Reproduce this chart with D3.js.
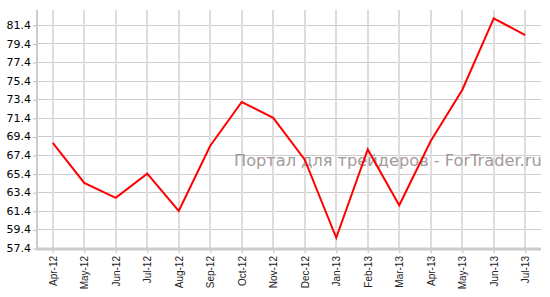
<!DOCTYPE html>
<html>
<head>
<meta charset="utf-8">
<script src="https://cdn.jsdelivr.net/npm/d3@7"></script>
<style>
	body { margin: 0; background: #fff; }
	svg { display: block; }
</style>
</head>
<body>
<div id="chart"></div>
<script>
// months on the x axis
const months = ["Apr-12", "May-12", "Jun-12", "Jul-12", "Aug-12", "Sep-12", "Oct-12", "Nov-12",
	"Dec-12", "Jan-13", "Feb-13", "Mar-13", "Apr-13", "May-13", "Jun-13", "Jul-13"];
// values
const values = [68.7, 64.4, 62.8, 65.4, 61.4, 68.4, 73.1, 71.4,
	66.9, 58.5, 68.0, 62.0, 68.9, 74.4, 82.1, 80.3];
const yTicks = [57.4, 59.4, 61.4, 63.4, 65.4, 67.4, 69.4, 71.4, 73.4, 75.4, 77.4, 79.4, 81.4];
const watermark = "Портал для трейдеров - ForTrader.ru";

const width = 550, height = 297;
const margin = {top: 10, right: 9, bottom: 49, left: 37};

const svg = d3.select('#chart').append('svg')
	.attr('width', width)
	.attr('height', height);

const x = d3.scalePoint()
	.domain(months)
	.range([margin.left, width - margin.right])
	.padding(0.5);

const y = d3.scaleLinear()
	.domain([57.4, 83.0])
	.range([height - margin.bottom, margin.top]);

// horizontal grid
svg.append('g')
	.selectAll('line')
	.data(yTicks)
	.enter().append('line')
	.attr('x1', margin.left)
	.attr('x2', width - margin.right)
	.attr('y1', d => Math.round(y(d)) + 0.5)
	.attr('y2', d => Math.round(y(d)) + 0.5)
	.style('stroke', '#cccccc')
	.style('stroke-width', 1);

// vertical grid
svg.append('g')
	.selectAll('line')
	.data(months)
	.enter().append('line')
	.attr('x1', d => Math.round(x(d)))
	.attr('x2', d => Math.round(x(d)))
	.attr('y1', margin.top)
	.attr('y2', height - margin.bottom)
	.style('stroke', '#dddddd')
	.style('stroke-width', 2);

// watermark
svg.append('text')
	.attr('x', 234)
	.attr('y', 166)
	.style('font-family', 'DejaVu Sans, Verdana, sans-serif')
	.style('font-size', '16.2px')
	.style('fill', '#a39a9a')
	.text(watermark);

// y axis
const yAxis = svg.append('g')
	.attr('transform', `translate(${margin.left},0)`)
	.call(d3.axisLeft(y).tickValues(yTicks).tickSize(4).tickPadding(2).tickFormat(d3.format('.1f')));
yAxis.select('.domain').remove();
yAxis.selectAll('.tick line').style('stroke', '#bbbbbb').attr('transform', 'translate(0,0.5)');
yAxis.selectAll('text')
	.style('font-family', 'DejaVu Sans, Verdana, sans-serif')
	.style('font-size', '11px')
	.style('fill', '#000');
svg.append('line')
	.attr('x1', margin.left).attr('x2', margin.left)
	.attr('y1', margin.top).attr('y2', height - margin.bottom + 2)
	.style('stroke', '#cccccc')
	.style('stroke-width', 2);

// x axis
const xAxis = svg.append('g')
	.attr('transform', `translate(0,${height - margin.bottom})`)
	.call(d3.axisBottom(x).tickSize(5).tickPadding(3));
xAxis.select('.domain').remove();
xAxis.selectAll('.tick line').style('stroke', '#bbbbbb');
xAxis.selectAll('text')
	.attr('transform', 'rotate(-90)')
	.attr('x', -8)
	.attr('y', 0)
	.attr('dy', '0.35em')
	.style('text-anchor', 'end')
	.style('font-family', 'Liberation Sans, Arial, sans-serif')
	.style('font-size', '10px')
	.style('fill', '#222');
svg.append('line')
	.attr('x1', margin.left - 1).attr('x2', width - margin.right)
	.attr('y1', height - margin.bottom + 1).attr('y2', height - margin.bottom + 1)
	.style('stroke', '#cccccc')
	.style('stroke-width', 3);

// the series
const line = d3.line()
	.x((d, i) => x(months[i]))
	.y(d => y(d));

svg.append('path')
	.datum(values)
	.attr('d', line)
	.style('fill', 'none')
	.style('stroke', '#ff0000')
	.style('stroke-width', 2)
	.style('stroke-linejoin', 'miter');
</script>
</body>
</html>
